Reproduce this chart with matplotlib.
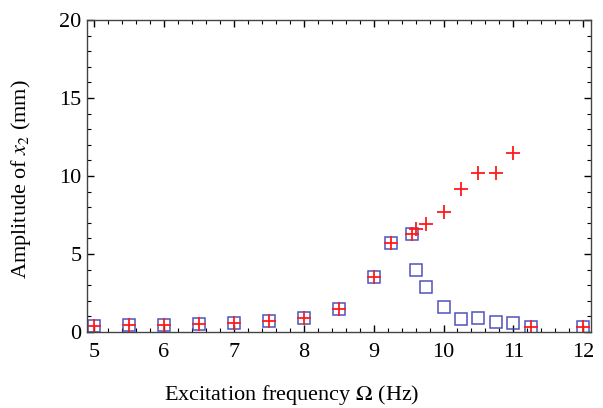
import numpy as np
import matplotlib
matplotlib.use("Agg")
import matplotlib.pyplot as plt
from matplotlib.ticker import MultipleLocator

freq_up = [5, 5.5, 6, 6.5, 7, 7.5, 8, 8.5, 9, 9.25, 9.55, 9.6, 9.75, 10, 10.25, 10.5, 10.75, 11, 11.25, 12]
amp_up = [0.38, 0.45, 0.45, 0.51, 0.6, 0.72, 0.92, 1.47, 3.5, 5.73, 6.3, 6.6, 6.95, 7.71, 9.15, 10.17, 10.21, 11.45, 0.34, 0.3]

freq_down = [5, 5.5, 6, 6.5, 7, 7.5, 8, 8.5, 9, 9.25, 9.55, 9.6, 9.75, 10, 10.25, 10.5, 10.75, 11, 11.25, 12]
amp_down = [0.38, 0.45, 0.45, 0.51, 0.6, 0.72, 0.92, 1.47, 3.5, 5.73, 6.3, 3.97, 2.86, 1.58, 0.83, 0.88, 0.66, 0.56, 0.34, 0.3]

plt.rcParams['font.family'] = ['Liberation Serif', 'DejaVu Serif']
plt.rcParams['mathtext.fontset'] = 'stix'

fig = plt.figure(figsize=(6.03, 4.08), dpi=100)
ax = fig.add_axes([87/603, 76/408, 504/603, 312/408])

ax.plot(freq_down, amp_down, ls='none', marker='s', ms=8, mfc='none',
        mec=(0.25, 0.25, 0.7), mew=1.1, alpha=0.9)
ax.plot(freq_up, amp_up, ls='none', marker='+', ms=10, color=(1, 0.1, 0.1), mew=1.3)

ax.set_xlim(4.9, 12.11)
ax.set_ylim(0, 20)
ax.xaxis.set_major_locator(MultipleLocator(1))
ax.xaxis.set_minor_locator(MultipleLocator(0.2))
ax.yaxis.set_major_locator(MultipleLocator(5))
ax.yaxis.set_minor_locator(MultipleLocator(1))
ax.tick_params(which='both', direction='in', top=True, right=True, labelsize=16)
ax.tick_params(which='major', length=5, width=1)
ax.tick_params(which='minor', length=3, width=0.8)
ax.tick_params(axis='x', pad=8)
ax.tick_params(axis='y', pad=4)
for s in ax.spines.values():
    s.set_linewidth(1)
    s.set_color('#444444')

ax.set_xlabel(r'Excitation frequency $\Omega$ (Hz)', fontsize=16)
ax.xaxis.set_label_coords(0.407, -0.165)
ax.set_ylabel(r'Amplitude of $x_2$ (mm)', fontsize=16)
ax.yaxis.set_label_coords(-0.107, 0.49)

fig.savefig('out.png', dpi=100)
